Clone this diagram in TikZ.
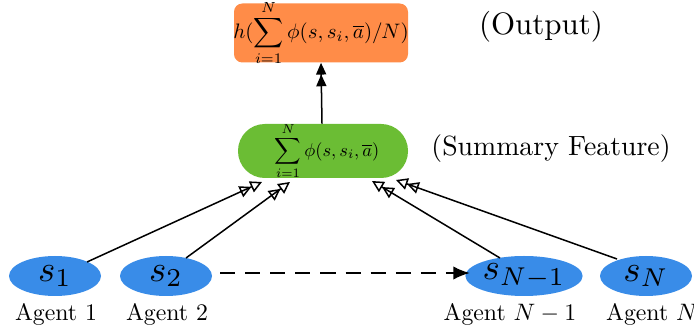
\documentclass[tikz,border=0pt]{standalone}
\usepackage{amsmath}
\usepackage{graphicx}
\usetikzlibrary{arrows.meta,shapes.geometric}
\definecolor{outorange}{RGB}{255,140,72}
\definecolor{sumgreen}{RGB}{107,189,52}
\definecolor{agentblue}{RGB}{57,140,232}
\newcommand{\agentsc}[1]{\scalebox{2.2}{#1}}
\newcommand{\labsc}[1]{\scalebox{1.42}{#1}}
\begin{document}
\begin{tikzpicture}[x=0.021cm,y=-0.021cm,
  agent/.style={ellipse,fill=agentblue,minimum width=92*0.021cm,minimum height=40*0.021cm,inner sep=0pt},
  dbl/.style={-{Triangle[open,length=7pt,width=7pt]Triangle[open,length=7pt,width=7pt]},line width=0.9pt},
  ]
\useasboundingbox (0,0) rectangle (694,333);
\node[fill=outorange,rounded corners=5pt,minimum width=174*0.021cm,minimum height=59*0.021cm,inner sep=0pt] (out) at (321,33) {};
\node (outf) at (321,33) {\scalebox{1.25}{$h(\displaystyle\sum_{i=1}^{N}\phi(s,s_i,\overline{a})/N)$}};
\node[fill=sumgreen,rectangle,rounded corners=16pt,minimum width=170*0.021cm,minimum height=54*0.021cm,inner sep=0pt] (sum) at (323,151) {};
\node (sumf) at (327,151) {\scalebox{1.1}{$\displaystyle\sum_{i=1}^{N}\phi(s,s_i,\overline{a})$}};
\node (outlab) at (541,27) {\scalebox{1.85}{(Output)}};
\node (sumlab) at (551,149) {\scalebox{1.66}{(Summary Feature)}};
\node[agent] (a1) at (55,276) {\agentsc{$s_1$}};
\node[agent] (a2) at (166,276) {\agentsc{$s_2$}};
\node[agent] (aN1) at (524,276) {\agentsc{$s_{N-1}$}};
\node[agent] (aN) at (646,276) {\agentsc{$s_N$}};
\node (l1) at (56,314) {\labsc{Agent 1}};
\node (l2) at (167,314) {\labsc{Agent 2}};
\node (lN1) at (510,314) {\labsc{Agent $N-1$}};
\node (lN) at (652,314) {\labsc{Agent $N$}};
\coordinate (s1) at (262,182);
\coordinate (s2) at (290,182);
\coordinate (s3) at (372,181);
\coordinate (s4) at (396,180);
\coordinate (e1) at (87,262);
\coordinate (e2) at (186,258);
\coordinate (e3) at (500,258);
\coordinate (e4) at (617,259);
\coordinate (dstart) at (220,273);
\coordinate (dend) at (470,273);
\draw[-{Triangle[length=7pt,width=6pt]Triangle[length=7pt,width=6pt]},line width=0.9pt] (sum.north -| 322,0) -- (out.south -| 321,0);
\draw[dbl] (e1) -- (s1);
\draw[dbl] (e2) -- (s2);
\draw[dbl] (e3) -- (s3);
\draw[dbl] (e4) -- (s4);
\draw[dashed,dash pattern=on 9pt off 6pt,line width=1.2pt,-{Latex[length=10pt,width=8pt]}] (dstart) -- (dend);
\end{tikzpicture}
\end{document}
